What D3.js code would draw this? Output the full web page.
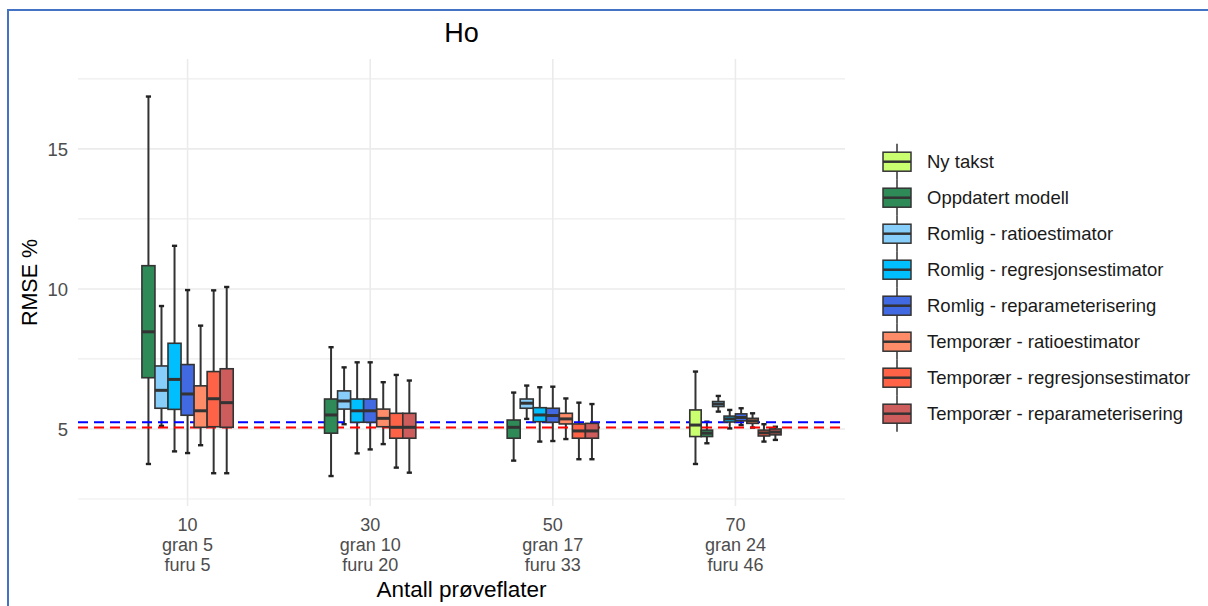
<!DOCTYPE html>
<html>
<head>
<meta charset="utf-8">
<script src="https://cdn.jsdelivr.net/npm/d3@7"></script>
<style>
  body { margin: 0; background: #fff; }
  svg { display: block; font-family: "Liberation Sans", Arial, sans-serif; }
</style>
</head>
<body>
<svg id="chart" width="1208" height="606"></svg>
<script>
// categories on the x axis
const groups = ["10", "30", "50", "70"];
const groupLabels = [
  ["10", "gran 5", "furu 5"],
  ["30", "gran 10", "furu 20"],
  ["50", "gran 17", "furu 33"],
  ["70", "gran 24", "furu 46"]
];

const seriesNames = [
  "Ny takst",
  "Oppdatert modell",
  "Romlig - ratioestimator",
  "Romlig - regresjonsestimator",
  "Romlig - reparameterisering",
  "Temporær - ratioestimator",
  "Temporær - regresjonsestimator",
  "Temporær - reparameterisering"
];
const seriesColors = ["#caff70", "#2e8b57", "#87cefa", "#00bfff", "#4169e1", "#ff8c69", "#ff6347", "#cd5c5c"];

// [lower whisker, q1, median, q3, upper whisker] per group, null = not present
const nyTakst        = [null, null, null, [3.75, 4.73, 5.14, 5.68, 7.05]];
const oppdatert      = [[3.75, 6.83, 8.47, 10.83, 16.87], [3.32, 4.85, 5.50, 6.07, 7.92], [3.87, 4.67, 5.06, 5.32, 6.30], [4.49, 4.73, 4.85, 4.96, 5.26]];
const romligRatio    = [[5.11, 5.74, 6.38, 7.25, 9.39], [5.17, 5.71, 6.00, 6.36, 7.20], [5.36, 5.74, 5.92, 6.07, 6.55], [5.62, 5.80, 5.89, 5.98, 6.18]];
const romligRegr     = [[4.20, 5.70, 6.77, 8.06, 11.54], [4.13, 5.24, 5.65, 6.07, 7.38], [4.55, 5.26, 5.50, 5.76, 6.49], [5.02, 5.25, 5.36, 5.46, 5.68]];
const romligReparam  = [[4.14, 5.49, 6.25, 7.30, 9.96], [4.27, 5.24, 5.65, 6.07, 7.38], [4.57, 5.24, 5.48, 5.74, 6.51], [5.14, 5.29, 5.41, 5.54, 5.74]];
const tempRatio      = [[4.42, 5.06, 5.65, 6.54, 8.69], [4.46, 5.08, 5.38, 5.71, 6.67], [4.64, 5.18, 5.36, 5.56, 6.09], [5.05, 5.20, 5.29, 5.38, 5.56]];
const tempRegr       = [[3.42, 5.08, 6.08, 7.05, 9.95], [3.62, 4.67, 5.06, 5.56, 6.93], [3.92, 4.67, 4.93, 5.18, 5.94], [4.55, 4.75, 4.86, 4.96, 5.17]];
const tempReparam    = [[3.42, 5.06, 5.94, 7.15, 10.07], [3.44, 4.67, 5.06, 5.56, 6.73], [3.92, 4.67, 4.93, 5.20, 5.89], [4.61, 4.79, 4.89, 5.00, 5.08]];
const seriesStats = [nyTakst, oppdatert, romligRatio, romligRegr, romligReparam, tempRatio, tempRegr, tempReparam];

// reference lines
const refLines = [{value: 5.24, color: "#0000ff"}, {value: 5.05, color: "#ff0000"}];

const yMajor = [5, 10, 15];
const yMinor = [2.5, 7.5, 12.5, 17.5];

const svg = d3.select("#chart");
const panel = {left: 78, right: 845, top: 59, bottom: 506};

const x = d3.scalePoint().domain(groups).range([panel.left, panel.right]).padding(0.6);
const y = d3.scaleLinear().domain([2.25, 18.21]).range([panel.bottom, panel.top]);
const dodgeWidth = x.step() * 0.5;

// frame around the picture
svg.append("path")
  .attr("d", "M8,606 V10 H1208")
  .attr("fill", "none").attr("stroke", "#4472c4").attr("stroke-width", 2);

// grid
const grid = svg.append("g");
grid.selectAll(".minor").data(yMinor).enter().append("line")
  .attr("x1", panel.left).attr("x2", panel.right)
  .attr("y1", d => y(d)).attr("y2", d => y(d))
  .attr("stroke", "#ededed").attr("stroke-width", 1.2);
grid.selectAll(".major").data(yMajor).enter().append("line")
  .attr("x1", panel.left).attr("x2", panel.right)
  .attr("y1", d => y(d)).attr("y2", d => y(d))
  .attr("stroke", "#ebebeb").attr("stroke-width", 1.6);
grid.selectAll(".vert").data(groups).enter().append("line")
  .attr("x1", d => x(d)).attr("x2", d => x(d))
  .attr("y1", panel.top).attr("y2", panel.bottom)
  .attr("stroke", "#ebebeb").attr("stroke-width", 1.6);

// y tick labels
svg.append("g").selectAll("text").data(yMajor).enter().append("text")
  .attr("x", 68).attr("y", d => y(d)).attr("dy", "0.36em")
  .attr("text-anchor", "end").attr("font-size", 18.5).attr("fill", "#4d4d4d")
  .text(d => d);

// x tick labels
const xt = svg.append("g").selectAll("text").data(groups).enter().append("text")
  .attr("text-anchor", "middle").attr("font-size", 18).attr("fill", "#4d4d4d");
xt.each(function(d, i) {
  const t = d3.select(this);
  groupLabels[i].forEach((line, j) => {
    t.append("tspan").attr("x", x(d)).attr("y", 531 + j * 20).text(line);
  });
});

// build box list, dodged within each group
const boxes = [];
groups.forEach((g, gi) => {
  const present = seriesStats.map((s, si) => ({si, st: s[gi]})).filter(d => d.st);
  const w = dodgeWidth / present.length;
  present.forEach((d, k) => {
    boxes.push({
      cx: x(g) - dodgeWidth / 2 + (k + 0.5) * w,
      w: w,
      color: seriesColors[d.si],
      lo: d.st[0], q1: d.st[1], med: d.st[2], q3: d.st[3], hi: d.st[4]
    });
  });
});

const marks = svg.append("g");
// whiskers
marks.selectAll(".wh").data(boxes).enter().append("line")
  .attr("x1", d => d.cx).attr("x2", d => d.cx)
  .attr("y1", d => y(d.lo)).attr("y2", d => y(d.hi))
  .attr("stroke", "#333").attr("stroke-width", 2);
marks.selectAll(".capHi").data(boxes).enter().append("line")
  .attr("x1", d => d.cx - 2.6).attr("x2", d => d.cx + 2.6)
  .attr("y1", d => y(d.hi)).attr("y2", d => y(d.hi))
  .attr("stroke", "#222").attr("stroke-width", 2.4);
marks.selectAll(".capLo").data(boxes).enter().append("line")
  .attr("x1", d => d.cx - 2.6).attr("x2", d => d.cx + 2.6)
  .attr("y1", d => y(d.lo)).attr("y2", d => y(d.lo))
  .attr("stroke", "#222").attr("stroke-width", 2.4);

// reference lines (drawn under boxes)
svg.append("g").selectAll("line").data(refLines).enter().append("line")
  .attr("x1", panel.left).attr("x2", panel.right)
  .attr("y1", d => y(d.value)).attr("y2", d => y(d.value))
  .attr("stroke", d => d.color).attr("stroke-width", 2)
  .attr("stroke-dasharray", "10,6");

const boxG = svg.append("g");
boxG.selectAll("rect").data(boxes).enter().append("rect")
  .attr("x", d => d.cx - d.w / 2).attr("width", d => d.w)
  .attr("y", d => y(d.q3)).attr("height", d => y(d.q1) - y(d.q3))
  .attr("fill", d => d.color).attr("stroke", "#333").attr("stroke-width", 1.6);
boxG.selectAll("line").data(boxes).enter().append("line")
  .attr("x1", d => d.cx - d.w / 2).attr("x2", d => d.cx + d.w / 2)
  .attr("y1", d => y(d.med)).attr("y2", d => y(d.med))
  .attr("stroke", "#333").attr("stroke-width", 3);

// titles
svg.append("text").attr("x", (panel.left + panel.right) / 2).attr("y", 42)
  .attr("text-anchor", "middle").attr("font-size", 27).attr("fill", "#000").text("Ho");
svg.append("text").attr("x", (panel.left + panel.right) / 2).attr("y", 597)
  .attr("text-anchor", "middle").attr("font-size", 22.5).attr("fill", "#000").text("Antall prøveflater");
svg.append("text").attr("transform", `translate(37,${(panel.top + panel.bottom) / 2}) rotate(-90)`)
  .attr("text-anchor", "middle").attr("font-size", 21.5).attr("fill", "#000").text("RMSE %");

// legend
const legend = svg.append("g");
const items = legend.selectAll("g").data(seriesNames).enter().append("g")
  .attr("transform", (d, i) => `translate(897,${161.7 + i * 36})`);
items.append("line").attr("x1", 0).attr("x2", 0).attr("y1", -18).attr("y2", 18)
  .attr("stroke", "#333").attr("stroke-width", 1.5);
items.append("rect").attr("x", -14).attr("y", -9.5).attr("width", 28).attr("height", 19)
  .attr("fill", (d, i) => seriesColors[i]).attr("stroke", "#333").attr("stroke-width", 1.5);
items.append("line").attr("x1", -14).attr("x2", 14).attr("y1", 0).attr("y2", 0)
  .attr("stroke", "#333").attr("stroke-width", 2.5);
items.append("text").attr("x", 30).attr("y", 0).attr("dy", "0.36em")
  .attr("font-size", 18.5).attr("fill", "#1a1a1a").text(d => d);
</script>
</body>
</html>
